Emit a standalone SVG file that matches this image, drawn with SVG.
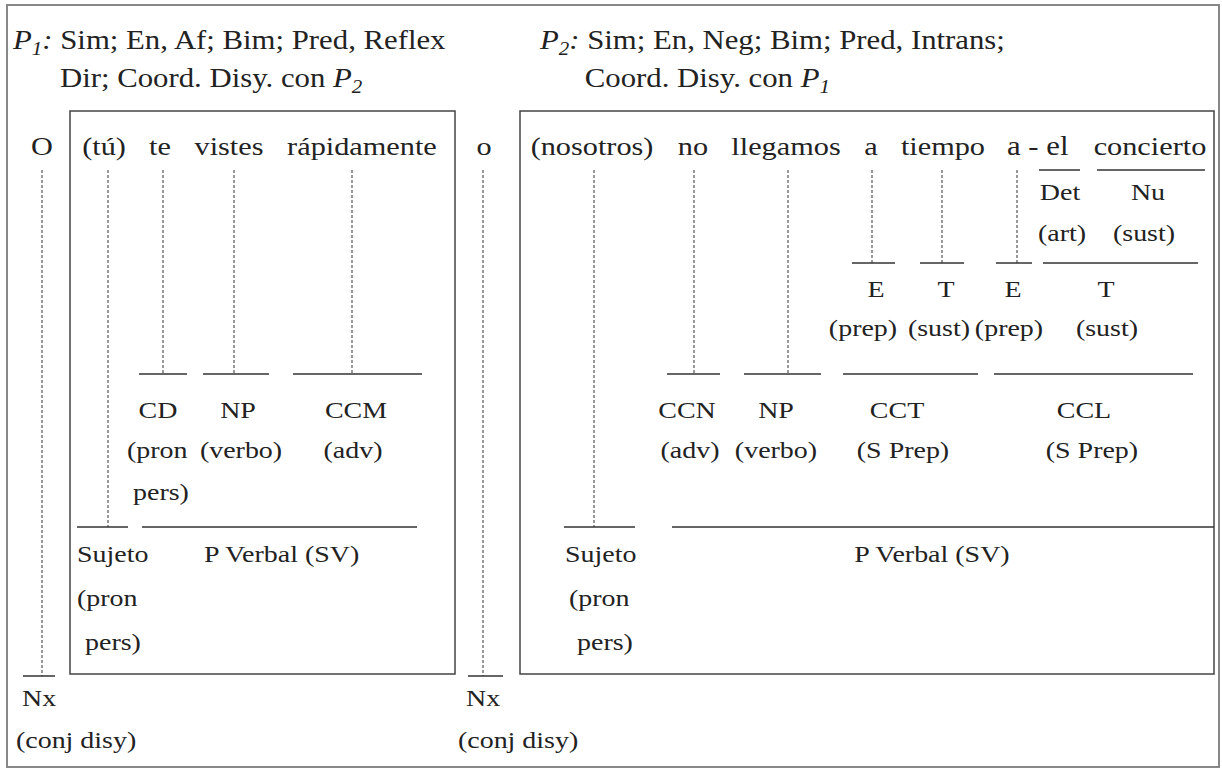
<svg xmlns="http://www.w3.org/2000/svg" width="1222" height="769" viewBox="0 0 1222 769">
<style>
text{font-family:"Liberation Serif","Times New Roman",serif;fill:#222}
.w{font-size:26px;text-anchor:middle}
.l{font-size:24px;text-anchor:middle}
.s{font-size:24px}
.h{font-size:26.4px}
.it{font-style:italic}
.box{fill:none;stroke:#444;stroke-width:1.5}
.bar{stroke:#333;stroke-width:1.5;fill:none}
.dash{stroke:#555;stroke-width:1.2;stroke-dasharray:3 2;fill:none}
</style>
<rect width="1222" height="769" fill="#fff"/>
<rect id="frame" x="7" y="5" width="1212" height="762" fill="none" stroke="#888" stroke-width="2"/>
<g id="P1-box"><rect class="box" x="70" y="111" width="385" height="563"/></g>
<g id="P2-box"><rect class="box" x="520" y="111" width="694" height="563"/></g>

<g id="connectors">
<line class="dash" x1="42" y1="170" x2="42" y2="676"/>
<line class="dash" x1="483" y1="170" x2="483" y2="676"/>
<line class="dash" x1="108" y1="170" x2="108" y2="527"/>
<line class="dash" x1="163" y1="170" x2="163" y2="374"/>
<line class="dash" x1="234" y1="170" x2="234" y2="374"/>
<line class="dash" x1="352" y1="170" x2="352" y2="374"/>
<line class="dash" x1="594" y1="170" x2="594" y2="527"/>
<line class="dash" x1="694" y1="170" x2="694" y2="374"/>
<line class="dash" x1="788" y1="170" x2="788" y2="374"/>
<line class="dash" x1="872" y1="170" x2="872" y2="263"/>
<line class="dash" x1="942" y1="170" x2="942" y2="263"/>
<line class="dash" x1="1017" y1="170" x2="1017" y2="263"/>
<line class="bar" x1="1039" y1="170" x2="1080" y2="170"/>
<line class="bar" x1="1097" y1="170" x2="1205" y2="170"/>
<line class="bar" x1="852" y1="263" x2="895" y2="263"/>
<line class="bar" x1="920" y1="263" x2="964" y2="263"/>
<line class="bar" x1="996" y1="263" x2="1032" y2="263"/>
<line class="bar" x1="1043" y1="263" x2="1198" y2="263"/>
<line class="bar" x1="139" y1="374" x2="187" y2="374"/>
<line class="bar" x1="203" y1="374" x2="269" y2="374"/>
<line class="bar" x1="293" y1="374" x2="422" y2="374"/>
<line class="bar" x1="667" y1="374" x2="720" y2="374"/>
<line class="bar" x1="744" y1="374" x2="821" y2="374"/>
<line class="bar" x1="843" y1="374" x2="978" y2="374"/>
<line class="bar" x1="994" y1="374" x2="1193" y2="374"/>
<line class="bar" x1="77" y1="527" x2="128" y2="527"/>
<line class="bar" x1="142" y1="527" x2="417" y2="527"/>
<line class="bar" x1="564" y1="527" x2="635" y2="527"/>
<line class="bar" x1="672" y1="527" x2="1214" y2="527"/>
<line class="bar" x1="23" y1="676" x2="55" y2="676"/>
<line class="bar" x1="468" y1="676" x2="503" y2="676"/>
</g>

<g id="header" transform="scale(1.165 1)">
<text class="h" x="11.2" y="49"><tspan class="it">P</tspan><tspan class="it" font-size="18" dy="6">1</tspan><tspan class="it" dy="-6">:</tspan> Sim; En, Af; Bim; Pred, Reflex</text>
<text class="h" x="51.5" y="87">Dir; Coord. Disy. con <tspan class="it">P</tspan><tspan class="it" font-size="18" dy="6">2</tspan></text>
<text class="h" x="463.5" y="49"><tspan class="it">P</tspan><tspan class="it" font-size="18" dy="6">2</tspan><tspan class="it" dy="-6">:</tspan> Sim; En, Neg; Bim; Pred, Intrans;</text>
<text class="h" x="502" y="87">Coord. Disy. con <tspan class="it">P</tspan><tspan class="it" font-size="18" dy="6">1</tspan></text>
</g>

<g id="conj1" transform="scale(1.165 1)">
<text class="w" x="36.05" y="155">O</text>
<text class="s" x="18.9" y="706">Nx</text>
<text class="s" x="13.7" y="748">(conj disy)</text>
</g>

<g id="P1-words" transform="scale(1.165 1)">
<text class="w" x="89.3" y="155">(tú)</text>
<text class="w" x="137.3" y="155">te</text>
<text class="w" x="196.6" y="155">vistes</text>
<text class="w" x="310.7" y="155">rápidamente</text>
<text class="l" x="135.6" y="418">CD</text>
<text class="l" x="204.3" y="418">NP</text>
<text class="l" x="305.6" y="418">CCM</text>
<text class="s" x="109" y="458">(pron</text>
<text class="l" x="206.9" y="458">(verbo)</text>
<text class="l" x="303" y="458">(adv)</text>
<text class="s" x="114.2" y="500">pers)</text>
<text class="s" x="66.1" y="562">Sujeto</text>
<text class="s" x="66.1" y="606">(pron</text>
<text class="s" x="73" y="650">pers)</text>
<text class="s" x="175.1" y="562">P Verbal (SV)</text>
</g>

<g id="conj2" transform="scale(1.165 1)">
<text class="w" x="415.5" y="155">o</text>
<text class="s" x="400" y="706">Nx</text>
<text class="s" x="393.1" y="748">(conj disy)</text>
</g>

<g id="P2-words" transform="scale(1.165 1)">
<text class="w" x="508.2" y="155">(nosotros)</text>
<text class="w" x="594.8" y="155">no</text>
<text class="w" x="674.7" y="155">llegamos</text>
<text class="w" x="747.6" y="155">a</text>
<text class="w" x="809.4" y="155">tiempo</text>
<text class="h" x="864.4" y="155" font-size="26px">a - el</text>
<text class="w" x="987.1" y="155">concierto</text>
<text class="l" x="909.9" y="200">Det</text>
<text class="l" x="985.4" y="200">Nu</text>
<text class="l" x="911.6" y="241">(art)</text>
<text class="l" x="982" y="241">(sust)</text>
<text class="l" x="751.9" y="297">E</text>
<text class="l" x="812" y="297">T</text>
<text class="l" x="869.5" y="297">E</text>
<text class="l" x="949.4" y="297">T</text>
<text class="l" x="740.8" y="336">(prep)</text>
<text class="l" x="806" y="336">(sust)</text>
<text class="l" x="866.1" y="336">(prep)</text>
<text class="l" x="950.2" y="336">(sust)</text>
<text class="l" x="589.7" y="418">CCN</text>
<text class="l" x="666.1" y="418">NP</text>
<text class="l" x="770" y="418">CCT</text>
<text class="l" x="930.5" y="418">CCL</text>
<text class="l" x="592.3" y="458">(adv)</text>
<text class="l" x="666.1" y="458">(verbo)</text>
<text class="l" x="775.1" y="458">(S Prep)</text>
<text class="l" x="937.3" y="458">(S Prep)</text>
<text class="s" x="485" y="562">Sujeto</text>
<text class="s" x="488.4" y="606">(pron</text>
<text class="s" x="495.3" y="650">pers)</text>
<text class="l" x="800" y="562">P Verbal (SV)</text>
</g>
</svg>
